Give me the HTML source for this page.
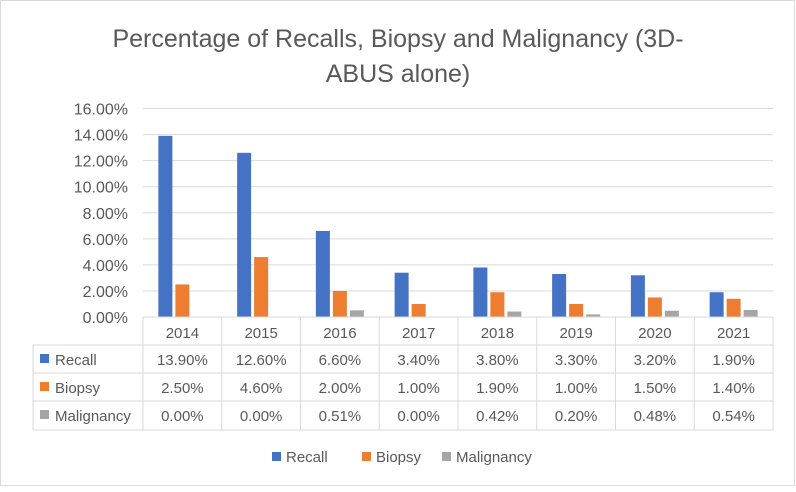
<!DOCTYPE html>
<html><head><meta charset="utf-8"><style>
body{margin:0;background:#fff;font-family:"Liberation Sans",sans-serif;}
svg text{font-family:"Liberation Sans",sans-serif;fill:#595959;}
</style></head><body>
<svg width="796" height="487">
<rect x="0.5" y="0.5" width="794" height="485" fill="#fff" stroke="#d9d9d9"/>
<text x="398" y="47" text-anchor="middle" font-size="25">Percentage of Recalls, Biopsy and Malignancy  (3D-</text>
<text x="398" y="82" text-anchor="middle" font-size="25">ABUS alone)</text>
<g id="grid"></g><g id="bars"></g><g id="table"></g><g id="legend"></g>
</svg>
<script>
const categories=["2014","2015","2016","2017","2018","2019","2020","2021"];
const recall=[13.9,12.6,6.6,3.4,3.8,3.3,3.2,1.9];
const biopsy=[2.5,4.6,2.0,1.0,1.9,1.0,1.5,1.4];
const malignancy=[0.0,0.0,0.51,0.0,0.42,0.20,0.48,0.54];
const yTicks=[0,2,4,6,8,10,12,14,16];
const seriesNames=["Recall","Biopsy","Malignancy"];
const colors=["#4472c4","#ed7d31","#a5a5a5"];
const NS="http://www.w3.org/2000/svg";
const X0=143,X1=773,Y0=317,Y16=108.5;
const cw=(X1-X0)/categories.length;
const y=v=>Y0-(v/16)*(Y0-Y16);
const xc=i=>X0+i*cw;
function mk(tag,attrs,parent,txt){const e=document.createElementNS(NS,tag);for(const k in attrs)e.setAttribute(k,attrs[k]);if(txt!==undefined)e.textContent=txt;parent.appendChild(e);return e;}
const grid=document.getElementById('grid');
yTicks.forEach(t=>{
 const l=mk('line',{x1:X0,x2:X1,y1:y(t),y2:y(t),stroke:'#d9d9d9','stroke-width':1},grid);
 
 
 const tx=mk('text',{x:128,y:y(t)+6,'text-anchor':'end','font-size':16},grid,t.toFixed(2)+'%');
 
 
});
const bars=document.getElementById('bars');
const series=[recall,biopsy,malignancy];
const bw=14,gap=3,off=(cw-(3*bw+2*gap))/2;
series.forEach((s,si)=>{s.forEach((v,i)=>{
 const r=mk('rect',{x:xc(i)+off+si*(bw+gap),y:y(v),width:bw,height:Y0-y(v),fill:colors[si]},bars);
 
 
});});
const tb=document.getElementById('table');
const rows=[317,345,373,401,430];
const TL=33;
const st={stroke:'#d9d9d9','stroke-width':1};
mk('line',Object.assign({x1:X0,x2:X1,y1:rows[0],y2:rows[0]},st),tb);
for(let r=1;r<rows.length;r++)mk('line',Object.assign({x1:TL,x2:X1,y1:rows[r],y2:rows[r]},st),tb);
mk('line',Object.assign({x1:TL,x2:TL,y1:rows[1],y2:rows[4]},st),tb);
for(let i=0;i<=categories.length;i++)mk('line',Object.assign({x1:xc(i),x2:xc(i),y1:rows[0],y2:rows[4]},st),tb);
categories.forEach((c,i)=>{
 const t=mk('text',{x:xc(i)+cw/2,y:rows[0]+21,'text-anchor':'middle','font-size':15},tb,c);
 
 
});
series.forEach((s,si)=>{
 const ry=rows[si+1];
 mk('rect',{x:40,y:ry+9,width:9,height:9,fill:colors[si]},tb);
 const n=mk('text',{x:55,y:ry+20,'font-size':15},tb,seriesNames[si]);
 
 
 s.forEach((v,i)=>{
  const t=mk('text',{x:xc(i)+cw/2,y:ry+20,'text-anchor':'middle','font-size':15},tb,v.toFixed(2)+'%');
  
  
 });
});
const lg=document.getElementById('legend');
const lx=[272,362,442];
seriesNames.forEach((n,i)=>{
 const r=mk('rect',{x:lx[i],y:452,width:9,height:9,fill:colors[i]},lg);
 
 
 const t=mk('text',{x:lx[i]+14,y:462,'font-size':15},lg,n);
 
 
});
</script>
</body></html>
